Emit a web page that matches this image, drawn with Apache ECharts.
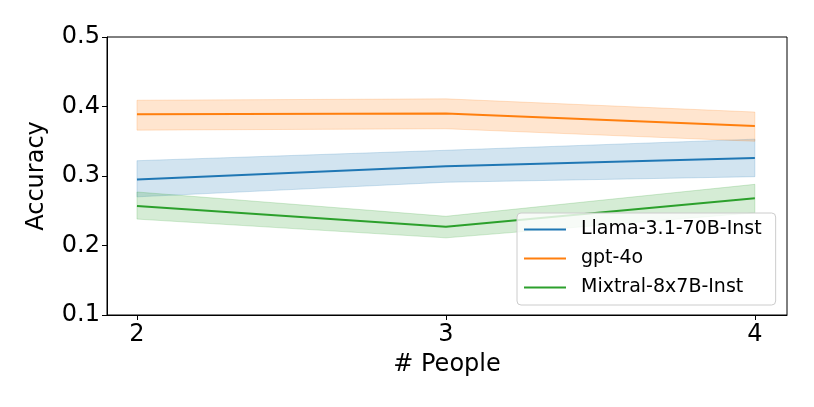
<!DOCTYPE html>
<html><head><meta charset="utf-8">
<script src="https://cdn.jsdelivr.net/npm/echarts@6/dist/echarts.min.js"></script>
<style>html,body{margin:0;padding:0;background:#fff}#c{width:814px;height:407px}</style>
</head><body><div id="c"></div>
<script>
const people = [2, 3, 4];
const yTicks = [0.1, 0.2, 0.3, 0.4, 0.5];
const llamaMean = [0.295, 0.314, 0.326];
const llamaLow  = [0.270, 0.291, 0.299];
const llamaHigh = [0.322, 0.337, 0.353];
const gptMean = [0.389, 0.390, 0.372];
const gptLow  = [0.366, 0.368, 0.350];
const gptHigh = [0.409, 0.411, 0.392];
const mixMean = [0.257, 0.227, 0.268];
const mixLow  = [0.238, 0.211, 0.247];
const mixHigh = [0.277, 0.242, 0.288];

const names = ['Llama-3.1-70B-Inst', 'gpt-4o', 'Mixtral-8x7B-Inst'];
const colors = ['#1f77b4', '#ff7f0e', '#2ca02c'];
const groups = [[llamaMean, llamaLow, llamaHigh],[gptMean, gptLow, gptHigh],[mixMean, mixLow, mixHigh]];
const FONT = 'DejaVu Sans';

function hexA(h, a){const r=parseInt(h.slice(1,3),16),g=parseInt(h.slice(3,5),16),b=parseInt(h.slice(5,7),16);return `rgba(${r},${g},${b},${a})`;}

const series = [];
groups.forEach((g, i) => {
  const [mean, low, high] = g;
  series.push({
    name: 'band-' + i, type: 'custom', silent: true, z: 1,
    data: people.map((x, k) => [x, low[k], high[k]]),
    renderItem: function (params, api) {
      if (params.dataIndex !== 0) return null;
      const top = people.map((x, k) => api.coord([x, high[k]]));
      const bot = people.map((x, k) => api.coord([x, low[k]])).reverse();
      return {
        type: 'polygon',
        shape: { points: top.concat(bot) },
        style: { fill: hexA(colors[i], 0.2), stroke: hexA(colors[i], 0.2), lineWidth: 1 }
      };
    },
    encode: { x: 0, y: [1, 2] }
  });
});
groups.forEach((g, i) => {
  series.push({
    name: names[i], type: 'line', symbol: 'none',
    data: people.map((x, k) => [x, g[0][k]]),
    lineStyle: { width: 2, color: colors[i] }, itemStyle: { color: colors[i] }, z: 3
  });
});

const chart = echarts.init(document.getElementById('c'));
chart.setOption({
  animation: false,
  backgroundColor: '#fff',
  grid: { left: 107, right: 27, top: 37, bottom: 92 },
  xAxis: {
    type: 'value', min: 1.903, max: 4.104,
    name: '# People', nameLocation: 'middle', nameGap: 38,
    nameTextStyle: { fontFamily: FONT, fontSize: 24, color: '#000' },
    axisLine: { show: true, lineStyle: { color: '#000', width: 1 } },
    axisTick: { show: true, customValues: people, length: 5, lineStyle: { color: '#000' } },
    axisLabel: { customValues: people, fontFamily: FONT, fontSize: 24, color: '#000', margin: 8 },
    splitLine: { show: false }
  },
  yAxis: {
    type: 'value', min: 0.1, max: 0.5, interval: 0.1,
    name: 'Accuracy', nameLocation: 'middle', nameGap: 58,
    nameTextStyle: { fontFamily: FONT, fontSize: 24, color: '#000' },
    axisLine: { show: true, lineStyle: { color: '#000', width: 1 } },
    axisTick: { show: true, length: 5, lineStyle: { color: '#000' } },
    axisLabel: { fontFamily: FONT, fontSize: 24, color: '#000', margin: 7, formatter: v => v.toFixed(1) },
    splitLine: { show: false }
  },
  graphic: [{
    type: 'rect', shape: { x: 107, y: 37, width: 680, height: 278 },
    style: { fill: 'none', stroke: '#000', lineWidth: 1 }, silent: true, z: 0
  }],
  legend: {
    data: names, orient: 'vertical', left: 517, top: 213,
    itemWidth: 42, itemHeight: 19, itemGap: 10, icon: 'path://M0,8.5L42,8.5L42,10.5L0,10.5Z',
    textStyle: { fontFamily: FONT, fontSize: 19, color: '#000', padding: [0, 0, 0, 10] },
    backgroundColor: 'rgba(255,255,255,0.8)', borderColor: '#ccc', borderWidth: 1, borderRadius: 4,
    padding: [7, 14, 8, 7]
  },
  series
});
</script></body></html>
